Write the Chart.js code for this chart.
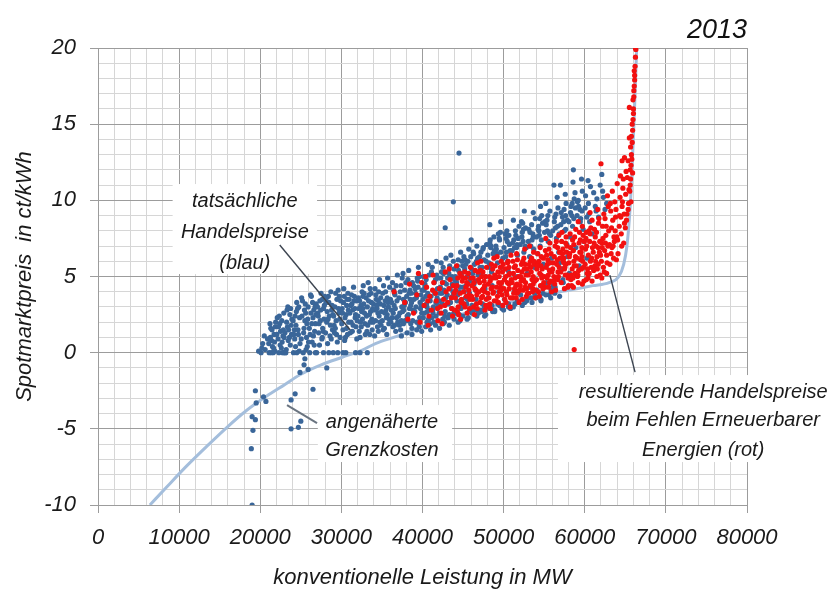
<!DOCTYPE html>
<html lang="de">
<head>
    <meta charset="utf-8">
    <title>Spotmarktpreis 2013</title>
    <script src="https://cdn.jsdelivr.net/npm/chart.js"></script>
    <style>
        html, body { margin: 0; padding: 0; background: #fff; }
        #wrap { width: 840px; height: 592px; position: relative; }
    </style>
</head>
<body>
<div id="wrap"><canvas id="chart"></canvas></div>
<script>
    // tatsächliche Handelspreise (blau): [MW, ct/kWh]
    const bluePoints = [
        [18900,-6.3],[19000,-10],[19100,-5.1],[19000,-4.2],[19400,-4.4],[19400,-2.5],[19500,-3.3],[20400,-2.9],[20700,-3.2],
        [19800,0.1],[20100,0.0],[20300,0.6],[20600,0.2],[20500,1.1],[20900,0.9],[20200,0.3],
        [23800,-3.1],[24300,-2.7],[23800,-5.0],[24700,-4.9],[25000,-4.5],[26500,-2.4],[24900,-1.3],[25400,-0.8],[25500,-0.4],[28200,-1.0],[25900,-1.1],
        [21100,0.0],[21300,1.6],[21500,0.4],[21700,1.2],[21900,2.0],[21400,0.8],[21800,0.1],[21200,1.9],
        [22100,2.3],[22300,0.0],[22500,1.4],[22700,0.7],[22900,2.6],[22400,1.9],[22600,0.3],[22800,1.1],[22200,0.9],
        [23100,0.0],[23300,2.8],[23500,1.5],[23700,0.5],[23900,2.2],[23400,3.0],[23600,1.0],[23800,1.8],[23200,0.2],
        [24100,0.0],[24300,2.4],[24500,3.3],[24700,1.2],[24900,0.6],[24400,1.8],[24600,2.9],[24800,0.1],[24200,1.5],
        [25100,3.6],[25300,0.0],[25500,2.1],[25700,1.0],[25900,3.0],[25400,1.6],[25600,2.6],[25800,0.4],[25200,3.4],[25050,0.9],
        [26100,0.0],[26300,3.7],[26500,2.3],[26700,1.4],[26900,3.2],[26400,0.7],[26600,2.8],[26800,1.9],[26200,3.8],[26550,1.1],
        [27100,2.6],[27300,0.5],[27500,3.9],[27700,1.6],[27900,3.1],[27400,2.1],[27600,0.9],[27800,2.9],[27200,1.3],[27650,3.5],
        [28100,3.3],[28300,0.6],[28500,2.4],[28700,4.0],[28900,1.5],[28400,3.7],[28600,1.1],[28800,2.8],[28200,2.0],[28450,0.0],
        [29100,1.8],[29300,3.9],[29500,0.7],[29700,2.6],[29900,3.4],[29400,1.2],[29600,4.1],[29800,2.2],[29200,3.0],[29550,0.0],
        [30100,2.9],[30300,4.2],[30500,1.0],[30700,3.5],[30900,2.0],[30400,0.8],[30600,2.5],[30800,3.9],[30200,1.5],[30650,3.1],
        [31100,1.3],[31300,3.2],[31500,4.3],[31700,2.3],[31900,0.9],[31400,2.8],[31600,3.7],[31800,1.7],[31200,2.0],[31550,3.4],[31750,0.0],
        [32100,3.6],[32300,1.0],[32500,2.7],[32700,4.4],[32900,1.9],[32400,3.1],[32600,2.2],[32800,3.9],[32200,1.4],[32650,2.9],
        [33100,2.4],[33300,4.6],[33500,1.2],[33700,3.3],[33900,2.0],[33400,3.8],[33600,2.7],[33800,1.5],[33200,3.0],[33550,4.2],
        [34100,1.1],[34300,3.5],[34500,2.6],[34700,4.8],[34900,1.8],[34400,2.9],[34600,4.0],[34800,3.2],[34200,2.1],[34550,1.4],
        [35100,3.9],[35300,1.6],[35500,2.8],[35700,4.9],[35900,2.2],[35400,3.4],[35600,1.2],[35800,3.0],[35200,4.4],[35650,2.5],
        [36100,2.0],[36300,4.6],[36500,3.1],[36700,1.4],[36900,5.1],[36400,2.6],[36600,3.8],[36800,2.3],[36200,3.3],[36550,1.8],
        [37100,3.6],[37300,1.5],[37500,4.9],[37700,2.8],[37900,3.3],[37400,2.1],[37600,5.2],[37800,4.1],[37200,2.6],[37650,1.9],
        [38100,2.4],[38300,5.4],[38500,3.5],[38700,1.6],[38900,4.4],[38400,2.9],[38600,3.9],[38800,2.1],[38200,4.8],[38550,3.1],
        [39100,4.2],[39300,2.0],[39500,5.6],[39700,3.3],[39900,2.6],[39400,4.7],[39600,1.7],[39800,3.8],[39200,3.0],[39650,5.0],
        [40100,2.3],[40300,4.5],[40500,3.2],[40700,5.8],[40900,1.9],[40400,3.7],[40600,2.7],[40800,5.1],[40200,4.1],[40550,2.0],
        [41100,5.3],[41300,2.6],[41500,4.0],[41700,6.0],[41900,3.1],[41400,2.0],[41600,4.8],[41800,3.6],[41200,5.6],[41650,2.4],
        [42100,3.4],[42300,5.9],[42500,2.2],[42700,4.6],[42900,6.2],[42400,3.9],[42600,5.2],[42800,2.7],[42200,4.3],[42550,1.9],
        [43100,4.9],[43300,2.5],[43500,6.4],[43700,3.7],[43900,5.5],[43400,4.2],[43600,2.9],[43800,6.0],[43200,3.2],[43650,5.0],
        [42800,8.2],[43800,9.9],[44500,13.1],
        [44100,2.6],[44300,5.7],[44500,4.0],[44700,6.6],[44900,3.3],[44400,6.1],[44600,2.1],[44800,5.2],[44200,4.6],[44650,3.0],
        [45100,6.3],[45300,3.6],[45500,5.0],[45700,6.8],[45900,2.8],[45400,4.4],[45600,6.0],[45800,3.9],[45200,5.5],[45650,2.3],
        [46100,3.1],[46300,6.5],[46500,4.7],[46700,7.0],[46900,2.6],[46400,5.8],[46600,3.5],[46800,6.2],[46200,5.2],[46550,4.1],[46000,7.4],
        [47100,5.6],[47300,2.7],[47500,6.9],[47700,4.2],[47900,7.1],[47400,3.2],[47600,6.1],[47800,5.0],[47200,6.6],[47650,2.4],
        [48100,3.6],[48300,7.2],[48500,5.3],[48700,6.5],[48900,2.8],[48400,6.9],[48600,4.4],[48800,7.6],[48200,5.9],[48550,3.1],[48300,8.4],
        [49100,6.8],[49300,3.2],[49500,7.4],[49700,5.6],[49900,6.2],[49400,4.0],[49600,7.9],[49800,2.9],[49200,6.5],[49650,8.6],
        [50100,3.5],[50300,7.5],[50500,6.0],[50700,7.1],[50900,4.6],[50400,8.0],[50600,3.0],[50800,6.7],[50200,7.8],[50550,5.4],
        [51100,7.2],[51300,4.0],[51500,7.7],[51700,6.4],[51900,8.3],[51400,3.2],[51600,6.9],[51800,7.5],[51200,8.7],[51650,5.0],
        [52100,3.8],[52300,7.9],[52500,6.6],[52700,8.2],[52900,5.2],[52400,7.3],[52600,3.3],[52800,6.9],[52200,8.6],[52550,9.3],
        [53100,8.1],[53300,4.3],[53500,7.4],[53700,6.8],[53900,8.8],[53400,3.6],[53600,7.8],[53800,5.6],[53200,6.3],[53650,9.2],
        [54100,4.1],[54300,8.3],[54500,7.0],[54700,9.0],[54900,5.8],[54400,7.7],[54600,3.5],[54800,8.5],[54200,6.5],[54550,9.6],
        [55100,8.6],[55300,4.6],[55500,7.3],[55700,9.3],[55900,6.2],[55400,8.0],[55600,3.8],[55800,7.7],[55200,9.8],[55650,5.4],
        [56100,4.4],[56300,8.9],[56500,7.5],[56700,9.5],[56900,5.9],[56400,8.2],[56600,10.2],[56800,6.6],[56200,11.0],[57000,11.0],
        [57100,9.2],[57300,4.8],[57500,8.0],[57700,9.8],[57900,6.3],[57400,8.6],[57600,10.4],[57800,7.1],[57200,5.5],[57650,9.0],
        [58100,5.2],[58300,9.6],[58500,8.3],[58700,10.1],[58900,6.9],[58400,9.0],[58600,12.0],[58800,10.5],[58200,7.6],[58550,11.2],
        [59100,9.9],[59300,5.7],[59500,8.8],[59700,10.6],[59900,7.3],[59400,9.4],[59600,11.4],[59800,8.1],[59200,10.0],
        [60100,10.3],[60300,6.2],[60500,9.1],[60700,10.9],[60900,7.8],[60400,11.3],[60600,8.6],
        [61100,10.5],[61300,9.6],[61500,10.1],[61700,8.9],[61900,11.0],[61400,9.3],
        [62100,11.7],[62300,10.2],[62500,9.4],[62700,9.8],[62200,10.6]
    ];

    // weitere blaue Punkte im dichten Kern der Wolke
    const blueCore = [
        [21050,0.6],[21250,1.0],[21450,1.5],[21650,0.3],[21850,1.7],[21350,0.0],[21750,0.7],[21600,0.0],
        [22050,1.2],[22250,1.7],[22450,0.5],[22650,2.1],[22850,1.5],[22350,2.4],[22750,0.0],[22950,1.0],[22900,0.0],
        [23050,1.3],[23250,2.0],[23450,0.8],[23650,2.5],[23850,1.2],[23350,1.7],[23750,2.9],[23150,0.0],
        [24050,2.1],[24250,0.9],[24450,2.7],[24650,1.5],[24850,2.3],[24350,0.4],[24750,3.0],[24150,1.2],[24500,0.0],
        [25150,2.4],[25350,1.3],[25550,3.2],[25750,1.9],[25950,0.7],[25450,2.8],[25650,0.2],[25850,2.2],
        [26050,1.6],[26250,2.6],[26450,3.3],[26650,0.5],[26850,2.5],[26350,1.9],[26750,3.0],[26150,1.2],[26950,0.0],[26800,0.0],
        [27050,3.0],[27250,1.9],[27450,2.8],[27650,1.0],[27850,2.2],[27350,3.4],[27750,1.4],[27150,2.4],[27950,3.7],[27800,0.0],
        [28050,1.3],[28250,2.7],[28450,3.3],[28650,1.8],[28850,3.1],[28350,2.2],[28750,0.9],[28150,3.6],[28950,2.5],[29000,0.0],
        [29050,2.4],[29250,1.6],[29450,3.5],[29650,2.9],[29850,1.0],[29350,2.1],[29750,3.7],[29150,1.3],[29950,2.7],
        [30050,1.9],[30250,3.3],[30450,2.3],[30650,1.6],[30850,2.8],[30350,3.7],[30750,1.2],[30150,2.6],[30950,3.5],[30550,0.0],[30200,0.0],
        [31050,2.6],[31250,3.8],[31450,1.8],[31650,2.9],[31850,3.4],[31350,1.4],[31750,2.5],[31150,3.1],[31950,2.1],
        [32050,2.4],[32250,3.4],[32450,1.7],[32650,3.7],[32850,2.6],[32350,2.0],[32750,3.2],[32150,2.9],[32950,1.2],[32550,4.0],[32300,0.0],
        [33050,3.6],[33250,1.8],[33450,2.5],[33650,3.9],[33850,2.9],[33350,3.4],[33750,2.2],[33150,1.4],[33950,3.2],[33550,2.0],[33200,0.0],
        [34050,2.8],[34250,3.8],[34450,1.7],[34650,2.4],[34850,3.6],[34350,3.1],[34750,2.0],[34150,4.2],[34950,2.7],[34550,3.4],
        [35050,2.1],[35250,3.1],[35450,4.0],[35650,3.6],[35850,1.9],[35350,2.6],[35750,3.3],[35150,1.5],[35950,4.3],[35550,2.3],
        [36050,3.5],[36250,2.3],[36450,4.1],[36650,2.9],[36850,3.4],[36350,1.7],[36750,4.4],[36150,2.8],[36950,2.0],[36550,3.9],
        [37050,2.4],[37250,4.0],[37450,3.0],[37650,3.5],[37850,2.1],[37350,4.4],[37750,3.1],[37150,1.8],[37950,4.6],[37550,2.7],
        [38050,3.7],[38250,2.5],[38450,4.1],[38650,3.3],[38850,2.8],[38350,3.9],[38750,4.6],[38150,2.1],[38950,3.5],[38550,1.9],
        [39050,2.7],[39250,3.6],[39450,4.3],[39650,2.3],[39850,3.1],[39350,4.9],[39750,2.9],[39150,3.9],[39950,4.1],[39550,1.9],
        [40050,3.5],[40250,2.6],[40450,4.8],[40650,3.9],[40850,2.8],[40350,4.3],[40750,2.2],[40150,5.0],[40950,3.4],[40550,3.0],
        [41050,3.7],[41250,2.8],[41450,4.6],[41650,3.3],[41850,4.2],[41350,3.0],[41750,5.1],[41150,2.3],[41950,4.9],[41550,3.9],
        [42050,2.6],[42250,4.9],[42450,3.2],[42650,4.1],[42850,3.6],[42350,5.3],[42750,2.4],[42150,3.9],[42950,4.5],[42550,5.6],
        [43050,3.8],[43250,5.2],[43450,3.3],[43650,4.5],[43850,2.6],[43350,5.7],[43750,4.0],[43150,2.3],[43950,4.8],[43550,3.6],
        [44050,5.0],[44250,3.4],[44450,5.4],[44650,4.3],[44850,6.0],[44350,3.8],[44750,2.9],[44150,4.8],[44950,5.7],[44550,2.5],
        [45050,4.3],[45250,6.1],[45450,3.2],[45650,5.2],[45850,4.7],[45350,5.8],[45750,2.7],[45150,4.0],[45950,6.3],[45550,3.5],
        [46050,5.5],[46250,6.6],[46450,2.8],[46650,6.0],[46850,5.1],[46350,4.5],
        [47050,6.3],[47250,5.2],[47450,6.8],[47650,3.0],[47850,6.0],[47350,5.6],
        [48050,6.4],[48250,5.6],[48450,7.0],[48650,2.7],[48850,6.7],[48350,7.4],
        [49050,7.0],[49250,5.9],[49450,7.5],[49650,6.6],[49850,3.0],[49350,7.8],
        [50050,6.9],[50250,6.3],[50450,7.3],[50650,7.7],[50850,2.9],[50350,6.6],
        [51050,6.7],[51250,7.4],[51450,8.0],[51650,7.1],[51850,3.3],[51350,6.9],
        [52050,7.1],[52250,7.6],[52450,8.1],[52650,7.0],[52850,3.4],[52350,8.5],
        [53050,7.3],[53250,7.9],[53450,8.4],[53650,7.6],[53850,3.8],[53350,7.0],
        [54050,7.6],[54250,8.1],[54450,8.8],[54650,7.4],[54850,3.9],[54350,8.0],
        [55050,7.9],[55250,8.4],[55450,9.0],[55650,7.8],[55850,4.1],[55350,8.7],
        [56050,8.0],[56250,8.6],[56450,9.1],[56650,8.3],[56850,7.8],[56350,4.3],
        [57050,8.4],[57250,8.9],[57450,9.4],[57650,8.1],[57850,8.7],[57350,4.6],
        [58050,8.6],[58250,9.2],[58450,9.8],[58650,8.8],[58850,9.5],
        [59050,9.0],[59250,9.6],[59450,8.6],[59650,9.3],
        [60050,9.5],[60250,8.9],[60450,9.8]
    ];

    // blaue Punkte am unteren Rand der Wolke (über der Grenzkostenkurve)
    const blueEdge = [
        [37400,1.1],[38100,1.3],[38700,1.2],[39300,1.5],[39900,1.4],[40400,1.7],[41000,1.5],[41600,1.8],[42100,1.6],
        [42700,2.0],[43300,1.8],[43900,2.2],[44400,2.0],[45000,2.4],[45500,2.2],[46100,2.6],[46700,2.4],[47200,2.8],
        [47800,2.5],[48300,2.9],[48900,2.7],[49500,3.1],[50000,2.8],[50600,3.2],[51200,3.0],[51700,3.4],[52300,3.1],
        [52900,3.5],[53500,3.3],[54000,3.6],[54600,3.4],[55200,3.8],[55800,3.6],[56300,3.9],[56900,3.7]
    ];

    // resultierende Handelspreise beim Fehlen Erneuerbarer (rot): [MW, ct/kWh]
    const redPoints = [
        [36500,4.0],[37800,3.3],[38400,4.5],[38900,2.6],[39300,3.8],[39700,2.0],[39900,4.6],[38200,2.2],[39500,5.2],
        [40200,3.1],[40500,4.3],[40800,2.4],[40400,5.0],[40700,1.8],[40900,3.7],
        [41100,2.8],[41400,4.6],[41700,3.4],[41900,2.1],[41300,5.1],[41600,3.9],
        [42100,4.2],[42300,2.6],[42600,3.5],[42800,5.3],[42400,1.9],[42900,4.0],[42200,3.0],
        [43100,3.3],[43400,4.8],[43700,2.4],[43900,3.9],[43300,5.5],[43600,2.9],[43800,4.4],
        [44100,4.1],[44300,2.7],[44600,5.2],[44800,3.5],[44400,3.0],[44900,4.7],[44200,5.7],[44700,2.2],
        [45100,3.2],[45300,4.9],[45500,2.6],[45700,4.1],[45900,5.6],[45400,3.7],[45600,4.5],[45800,2.9],[45200,5.3],
        [46100,4.4],[46300,3.0],[46500,5.4],[46700,3.8],[46900,4.8],[46400,2.5],[46600,4.1],[46800,5.9],[46200,3.5],
        [47100,3.3],[47300,5.0],[47500,4.2],[47700,2.8],[47900,5.6],[47400,3.7],[47600,4.7],[47800,3.1],[47200,6.0],[47650,4.0],
        [48100,4.5],[48300,3.2],[48500,5.8],[48700,3.9],[48900,5.1],[48400,2.9],[48600,4.3],[48800,6.2],[48200,3.6],[48650,4.9],
        [49100,3.4],[49300,5.3],[49500,4.0],[49700,6.0],[49900,3.1],[49400,4.6],[49600,5.6],[49800,3.8],[49200,6.3],[49650,4.3],
        [50100,4.8],[50300,3.3],[50500,5.9],[50700,4.2],[50900,6.4],[50400,3.8],[50600,5.1],[50800,3.0],[50200,5.5],[50650,4.5],
        [51100,3.6],[51300,5.6],[51500,4.4],[51700,6.1],[51900,3.3],[51400,4.9],[51600,6.5],[51800,4.0],[51200,5.2],[51650,3.9],
        [52100,5.0],[52300,3.5],[52500,6.2],[52700,4.6],[52900,5.5],[52400,4.1],[52600,6.8],[52800,3.7],[52200,5.8],[52650,4.3],
        [53100,3.9],[53300,6.0],[53500,4.8],[53700,6.6],[53900,3.6],[53400,5.3],[53600,4.2],[53800,5.8],[53200,7.0],[53650,4.5],
        [54100,5.5],[54300,4.0],[54500,6.9],[54700,4.9],[54900,6.2],[54400,3.7],[54600,5.7],[54800,4.4],[54200,6.5],[54650,5.1],
        [55100,4.3],[55300,6.4],[55500,5.1],[55700,7.2],[55900,4.0],[55400,5.8],[55600,6.8],[55800,4.7],[55200,7.5],[55650,5.4],
        [56100,5.9],[56300,4.5],[56500,7.3],[56700,5.3],[56900,6.6],[56400,4.1],[56600,6.1],[56800,7.7],[56200,5.0],[56650,4.8],
        [57100,4.6],[57300,6.8],[57500,5.5],[57700,7.6],[57900,4.3],[57400,6.2],[57600,5.1],[57800,7.0],[57200,7.9],[57650,5.8],
        [58100,6.3],[58300,4.8],[58500,7.4],[58700,5.7],[58900,8.1],[58400,4.4],[58600,6.7],[58800,5.2],[58200,7.8],[58650,6.0],[58700,0.2],
        [59100,5.0],[59300,7.2],[59500,6.1],[59700,8.3],[59900,4.7],[59400,6.6],[59600,5.5],[59800,7.7],[59200,8.6],[59650,6.3],
        [60100,6.8],[60300,5.2],[60500,8.0],[60700,6.0],[60900,8.7],[60400,4.9],[60600,7.3],[60800,5.6],[60200,7.9],[60650,9.2],
        [61100,5.4],[61300,7.6],[61500,6.3],[61700,8.5],[61900,5.1],[61400,7.0],[61600,9.4],[61800,6.6],[61200,8.1],[61650,5.8],
        [62100,7.2],[62300,5.6],[62500,8.8],[62700,6.4],[62900,9.6],[62400,5.3],[62600,7.7],[62800,10.3],[62200,8.3],[62000,12.4],
        [63100,5.8],[63300,8.2],[63500,7.0],[63700,9.9],[63900,6.1],[63400,10.6],[63600,7.6],[63800,8.9],[63200,9.3],
        [64100,6.5],[64300,9.0],[64500,7.8],[64700,10.8],[64900,8.5],[64400,11.6],[64600,9.6],[64800,7.2],
        [65000,8.2],[65200,9.1],[65400,9.8],[65550,10.6],[65650,11.4],[65700,12.3],[64900,12.8],[65750,13.0],[65850,13.8],
        [65900,14.6],[65500,16.1],[65950,15.3],[66000,16.0],[66050,16.8],[66100,17.5],[66150,18.2],[66200,18.8],[66250,19.4],
        [66300,19.9],[66150,17.9],[66000,15.7],[65800,12.7],[65600,11.0],[65350,9.4]
    ];

    // weitere rote Punkte im dichten Kern
    const redCore = [
        [40650,3.4],[41250,4.1],[41850,2.9],[42450,4.6],[42750,3.1],[43250,4.2],[43550,3.6],[43950,2.8],
        [44050,3.6],[44250,4.4],[44450,2.5],[44650,3.9],[44850,5.0],[44350,4.9],[44750,3.3],
        [45050,4.0],[45250,3.0],[45450,4.6],[45650,5.2],[45850,3.5],[45350,4.3],[45750,3.8],[45950,4.9],
        [46050,3.7],[46250,4.9],[46450,4.2],[46650,3.2],[46850,5.3],[46350,4.6],[46750,2.9],[46950,4.0],
        [47050,4.6],[47250,3.6],[47450,5.3],[47650,4.4],[47850,3.5],[47350,4.1],[47750,5.0],[47950,3.0],[47150,5.4],
        [48050,3.9],[48250,5.0],[48450,4.2],[48650,5.5],[48850,3.4],[48350,4.7],[48750,4.0],[48950,5.7],[48150,3.1],
        [49050,4.9],[49250,3.7],[49450,5.0],[49650,4.1],[49850,5.3],[49350,3.3],[49750,4.6],[49950,5.8],[49150,4.3],
        [50050,4.2],[50250,5.0],[50450,4.6],[50650,5.6],[50850,3.6],[50350,4.0],[50750,5.2],[50950,4.8],[50150,3.5],[50550,6.0],
        [51050,4.6],[51250,3.9],[51450,5.7],[51650,4.5],[51850,5.0],[51350,4.2],[51750,5.4],[51950,4.1],[51150,6.0],[51550,3.6],
        [52050,4.4],[52250,5.3],[52450,4.8],[52650,5.8],[52850,4.2],[52350,6.0],[52750,5.1],[52950,3.9],[52150,4.7],[52550,5.5],
        [53050,5.1],[53250,4.4],[53450,6.2],[53650,5.0],[53850,4.7],[53350,5.6],[53750,6.0],[53950,4.1],[53150,5.8],[53550,4.0],
        [54050,4.8],[54250,5.9],[54450,5.2],[54650,6.3],[54850,4.2],[54350,6.0],[54750,5.5],[54950,4.6],[54150,5.7],[54550,4.4],
        [55050,5.0],[55250,5.6],[55450,6.1],[55650,4.6],[55850,6.5],[55350,4.9],[55750,5.9],[55950,5.3],[55150,6.7],[55550,4.3],
        [56050,5.5],[56250,6.3],[56450,4.9],[56650,6.9],[56850,5.6],[56350,7.0],[56750,5.0],[56950,6.2],[56150,4.7],[56550,5.8],
        [57050,5.3],[57250,6.5],[57450,5.9],[57650,7.2],[57850,5.1],[57350,6.0],[57750,6.6],[57950,4.9],[57150,7.3],[57550,5.6],
        [58050,5.9],[58250,6.9],[58450,5.5],[58650,7.1],[58850,6.3],[58350,5.1],[58750,7.6],[58950,5.7],[58150,6.5],[58550,4.9],
        [59050,6.2],[59250,5.4],[59450,7.4],[59650,6.9],[59850,5.6],[59350,7.9],[59750,6.0],[59950,7.3],[59150,5.1],[59550,6.6],
        [60050,5.8],[60250,7.0],[60450,6.4],[60650,7.8],[60850,6.2],[60350,5.5],[60750,8.2],[60950,6.9],[60150,7.5],[60550,5.2],
        [61050,6.6],[61250,5.7],[61450,7.9],[61650,6.9],[61850,7.3],[61350,6.0],[61750,8.8],[61950,6.4],[61150,7.2],[61550,5.5],
        [62050,6.0],[62250,7.5],[62450,6.7],[62650,8.3],[62850,7.0],[62350,9.1],[62750,5.9],[62950,8.0],[62150,6.9],[62550,7.2],
        [63050,7.1],[63250,6.5],[63450,8.7],[63650,7.3],[63850,9.4],[63350,6.9],[63750,8.0],[63950,7.6],[63150,9.8],[63550,6.2],
        [64050,7.4],[64250,8.3],[64450,8.9],[64650,9.9],[64850,9.1],[64350,10.2],[64550,7.0],[64750,11.4],
        [65050,10.4],[65150,8.7],[65250,11.5],[65350,12.6],[65450,10.7],[65650,13.5],[65750,14.2],[65850,15.0],[65950,16.6],
        [66050,17.2],[66100,18.5],[66250,20.0],[65700,9.9],[65900,11.8],[65600,12.0],[65500,14.1],[65100,11.9],[64600,12.6],[64000,11.1],
        [57500,4.2],[58000,4.4],[58600,4.3],[59200,4.6],[59700,4.5],[60200,4.8],[60900,4.7],[61500,5.0],[62100,4.9],[62700,5.2]
    ];

    // angenäherte Grenzkosten
    const costX = [6400, 8500, 11000, 13500, 15900, 18300, 20800, 23000, 24900, 27500, 30100, 32500, 34200, 37000, 40000,
                   43000, 46000, 50000, 54000, 58000, 61000, 63000, 64200, 64800, 65200, 65500, 65700, 65900, 66100, 66400];
    const costY = [-10, -8.8, -7.4, -6.1, -4.9, -3.8, -2.85, -2.1, -1.45, -0.8, -0.3, 0.15, 0.6, 1.1, 1.7,
                   2.2, 2.7, 3.2, 3.7, 4.1, 4.4, 4.6, 5.0, 5.8, 7.0, 8.8, 10.5, 13, 15.5, 20];

    const xTicksLabelled = [0, 10000, 20000, 30000, 40000, 50000, 60000, 70000, 80000];
    const yTicksLabelled = [-10, -5, 0, 5, 10, 15, 20];

    // Beschriftungen in Datenkoordinaten
    const notes = [
        { box: [9200, 27000, 11.07, 5.16], cx: 18100,
          lines: [['tatsächliche', 9.9], ['Handelspreise', 7.9], ['(blau)', 5.85]],
          lead: [22400, 7.07, 31100, 1.49], leadColor: '#3c4450', leadWidth: 1.4 },
        { box: [27100, 43650, -3.44, -7.18], cx: 35000,
          lines: [['angenäherte', -4.56], ['Grenzkosten', -6.4]],
          lead: [23300, -3.44, 27000, -4.62], leadColor: '#6a7480', leadWidth: 2 },
        { box: [56700, 92000, -1.47, -7.18], cx: 74600,
          lines: [['resultierende Handelspreise', -2.6], ['beim Fehlen Erneuerbarer', -4.45], ['Energien (rot)', -6.4]],
          lead: [63100, 5.09, 66200, -1.28], leadColor: '#3c4450', leadWidth: 1.4 }
    ];

    const FONT = "'Liberation Sans', Arial, sans-serif";

    const notesPlugin = {
        id: 'notes',
        afterDatasetsDraw(chart) {
            const ctx = chart.ctx;
            const xs = chart.scales.x, ys = chart.scales.y;
            ctx.save();
            notes.forEach(n => {
                const x0 = xs.getPixelForValue(n.box[0]), x1 = xs.getPixelForValue(n.box[1]);
                const y0 = ys.getPixelForValue(n.box[2]), y1 = ys.getPixelForValue(n.box[3]);
                ctx.fillStyle = '#ffffff';
                ctx.fillRect(x0, y0, x1 - x0, y1 - y0);
                ctx.fillStyle = '#1a1a1a';
                ctx.font = 'italic 20px ' + FONT;
                ctx.textAlign = 'center';
                ctx.textBaseline = 'middle';
                n.lines.forEach(l => ctx.fillText(l[0], xs.getPixelForValue(n.cx), ys.getPixelForValue(l[1])));
            });
            notes.forEach(n => {
                ctx.strokeStyle = n.leadColor;
                ctx.lineWidth = n.leadWidth;
                ctx.beginPath();
                ctx.moveTo(xs.getPixelForValue(n.lead[0]), ys.getPixelForValue(n.lead[1]));
                ctx.lineTo(xs.getPixelForValue(n.lead[2]), ys.getPixelForValue(n.lead[3]));
                ctx.stroke();
            });
            // Jahr
            ctx.fillStyle = '#111';
            ctx.font = 'italic 27px ' + FONT;
            ctx.textAlign = 'right';
            ctx.textBaseline = 'alphabetic';
            ctx.fillText('2013', chart.chartArea.right, 38);
            ctx.restore();
        }
    };

    const MAJOR = '#9c9c9c', MINOR = '#d6d6d6';
    const toXY = p => ({ x: p[0], y: p[1] });

    new Chart(document.getElementById('chart'), {
        type: 'scatter',
        data: {
            datasets: [
                {
                    label: 'resultierende Handelspreise (rot)',
                    data: redPoints.concat(redCore).map(toXY),
                    backgroundColor: '#f21010',
                    borderWidth: 0,
                    pointRadius: 2.6,
                    order: 0
                },
                {
                    label: 'tatsächliche Handelspreise (blau)',
                    data: bluePoints.concat(blueCore, blueEdge).map(toXY),
                    backgroundColor: '#3a6699',
                    borderWidth: 0,
                    pointRadius: 2.6,
                    order: 1
                },
                {
                    label: 'angenäherte Grenzkosten',
                    data: costX.map((x, i) => ({ x: x, y: costY[i] })),
                    showLine: true,
                    borderColor: '#a4bedc',
                    borderWidth: 3,
                    pointRadius: 0,
                    cubicInterpolationMode: 'monotone',
                    order: 2
                }
            ]
        },
        options: {
            responsive: true,
            maintainAspectRatio: false,
            animation: false,
            layout: { padding: { top: 48, right: 93, left: 0, bottom: 0 } },
            plugins: {
                legend: { display: false },
                tooltip: { enabled: false }
            },
            scales: {
                x: {
                    type: 'linear',
                    min: 0,
                    max: 80000,
                    afterFit(scale) { scale.height = 87; },
                    ticks: {
                        stepSize: 2000,
                        autoSkip: false,
                        maxRotation: 0,
                        padding: 12,
                        color: '#1a1a1a',
                        font: { family: FONT, size: 22, style: 'italic' },
                        callback: v => xTicksLabelled.includes(v) ? String(v) : ''
                    },
                    grid: {
                        color: c => c.tick && c.tick.value % 10000 === 0 ? MAJOR : MINOR,
                        tickColor: c => c.tick && c.tick.value % 10000 === 0 ? MAJOR : 'rgba(0,0,0,0)',
                        tickLength: 8
                    },
                    border: { color: MAJOR },
                    title: {
                        display: true,
                        text: 'konventionelle Leistung in MW',
                        color: '#1a1a1a',
                        font: { family: FONT, size: 22, style: 'italic' },
                        padding: { top: 0, bottom: 1 }
                    }
                },
                y: {
                    type: 'linear',
                    min: -10,
                    max: 20,
                    afterFit(scale) { scale.width = 98; },
                    ticks: {
                        stepSize: 1,
                        autoSkip: false,
                        padding: 14,
                        color: '#1a1a1a',
                        font: { family: FONT, size: 22, style: 'italic' },
                        callback: v => yTicksLabelled.includes(v) ? String(v) : ''
                    },
                    grid: {
                        color: c => c.tick && c.tick.value % 5 === 0 ? MAJOR : MINOR,
                        tickColor: c => c.tick && c.tick.value % 5 === 0 ? MAJOR : 'rgba(0,0,0,0)',
                        tickLength: 8
                    },
                    border: { color: MAJOR },
                    title: {
                        display: true,
                        text: 'Spotmarktpreis  in ct/kWh',
                        color: '#1a1a1a',
                        font: { family: FONT, size: 22, style: 'italic' },
                        padding: { top: 12, bottom: 0 }
                    }
                }
            }
        },
        plugins: [notesPlugin]
    });
</script>
</body>
</html>
